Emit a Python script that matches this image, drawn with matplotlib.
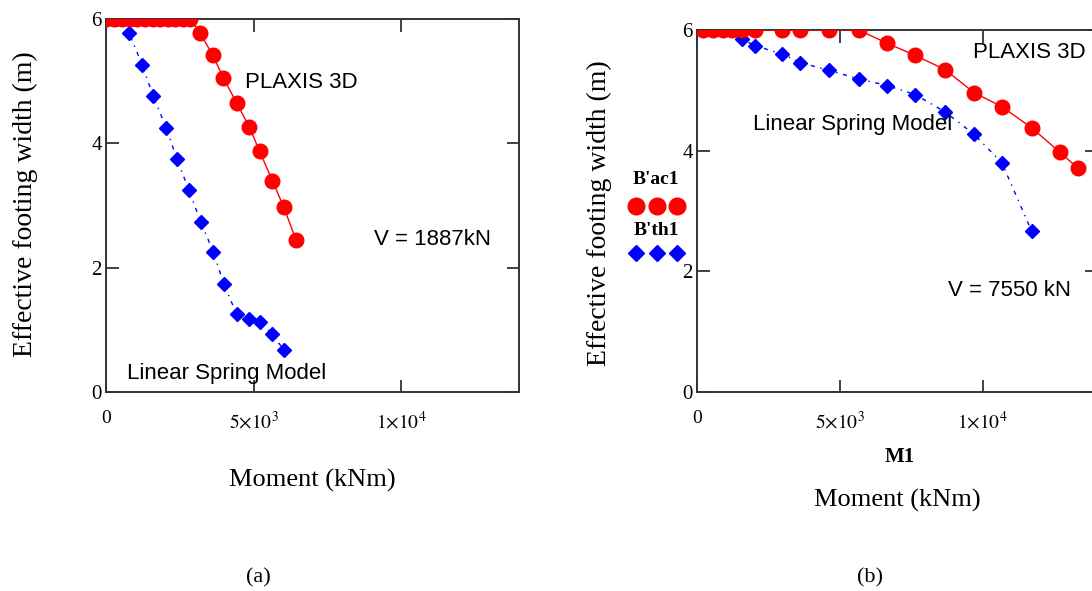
import matplotlib.pyplot as plt
from matplotlib.lines import Line2D

plt.rcParams['font.family'] = ['Liberation Serif', 'DejaVu Serif']
plt.rcParams['mathtext.fontset'] = 'stix'

# --- data (a): V = 1887 kN
a_plaxis_m = [0, 270, 540, 800, 1050, 1330, 1600, 1840, 2100, 2350, 2620, 2860,
              3180, 3620, 3980, 4430, 4850, 5210, 5640, 6020, 6440]
a_plaxis_b = [6.0, 6.0, 6.0, 6.0, 6.0, 6.0, 6.0, 6.0, 6.0, 6.0, 6.0, 6.0,
              5.78, 5.42, 5.05, 4.65, 4.27, 3.87, 3.40, 2.98, 2.45]
a_spring_m = [0, 370, 780, 1230, 1600, 2050, 2400, 2810, 3210, 3630, 4000,
              4430, 4850, 5230, 5640, 6020]
a_spring_b = [6.0, 6.0, 5.78, 5.26, 4.76, 4.24, 3.75, 3.25, 2.74, 2.26, 1.73,
              1.25, 1.17, 1.12, 0.93, 0.68]

# --- data (b): V = 7550 kN
b_plaxis_m = [200, 560, 910, 1220, 1580, 2030, 2990, 3620, 4620, 5660, 6650,
              7640, 8690, 9700, 10670, 11710, 12710, 13330]
b_plaxis_b = [6.0, 6.0, 6.0, 6.0, 6.0, 6.0, 6.0, 6.0, 6.0, 6.0, 5.78,
              5.58, 5.34, 4.96, 4.73, 4.38, 3.97, 3.71]
b_spring_m = [200, 560, 910, 1220, 1580, 2030, 2990, 3620, 4620, 5660, 6650,
              7640, 8690, 9700, 10670, 11710]
b_spring_b = [6.0, 6.0, 6.0, 6.0, 5.85, 5.74, 5.60, 5.46, 5.33, 5.19, 5.08,
              4.93, 4.64, 4.27, 3.80, 2.67]

x_ticks = [0, 5000, 10000]
x_ticklabels = ['0', r'$5{\times}10^{3}$', r'$1{\times}10^{4}$']
y_ticks = [0, 2, 4, 6]

W, H = 1092, 591
fig = plt.figure(figsize=(W / 100, H / 100), dpi=100)


def box(l, t, r, b):
    return [l / W, 1 - b / H, (r - l) / W, (b - t) / H]


def fx(x):
    return x / W


def fy(y):
    return 1 - y / H


RED = '#ff0000'
BLUE = '#0000ff'
blue_ls = (0, (3, 4, 1, 4))


def setup(ax):
    ax.set_xlim(0, 14000)
    ax.set_ylim(0, 6)
    ax.set_xticks(x_ticks)
    ax.set_xticklabels(x_ticklabels)
    ax.set_yticks(y_ticks)
    ax.tick_params(direction='in', top=True, right=True, length=9, width=1.3,
                   color='#333333')
    ax.tick_params(axis='x', pad=13, labelsize=14)
    ax.tick_params(axis='y', pad=3, labelsize=15)
    for s in ax.spines.values():
        s.set_linewidth(1.4)
        s.set_color('#333333')


def draw(ax, pm, pb, sm, sb):
    ax.plot(sm, sb, color=BLUE, ls=blue_ls, lw=1.0, marker='D', ms=7.5,
            mec=BLUE, mfc=BLUE, zorder=3)
    ax.plot(pm, pb, color=RED, ls='-', lw=1.0, marker='o', ms=10.5,
            mec=RED, mfc=RED, zorder=4)


sans = ['Liberation Sans', 'DejaVu Sans']

# ── (a) ──
ax1 = fig.add_axes(box(106, 19, 519, 392))
setup(ax1)
draw(ax1, a_plaxis_m, a_plaxis_b, a_spring_m, a_spring_b)
ax1.text(4700, 4.98, 'PLAXIS 3D', family=sans, fontsize=16, va='center', ha='left')
ax1.text(9100, 2.45, 'V = 1887kN', family=sans, fontsize=16, va='center', ha='left')
ax1.text(700, 0.3, 'Linear Spring Model', family=sans, fontsize=16, va='center', ha='left')
fig.text(fx(25), fy(204), 'Effective footing width (m)', rotation=90,
         fontsize=20, ha='center', va='center')
fig.text(fx(312), fy(480), 'Moment (kNm)', fontsize=19, ha='center', va='center')
fig.text(fx(258), fy(578), '(a)', fontsize=16, ha='center', va='center')

# ── (b) ──
ax2 = fig.add_axes(box(697, 30, 1097, 392))
setup(ax2)
draw(ax2, b_plaxis_m, b_plaxis_b, b_spring_m, b_spring_b)
ax2.text(9650, 5.62, 'PLAXIS 3D', family=sans, fontsize=16, va='center', ha='left')
ax2.text(1950, 4.43, 'Linear Spring Model', family=sans, fontsize=16, va='center', ha='left')
ax2.text(8800, 1.68, 'V = 7550 kN', family=sans, fontsize=16, va='center', ha='left')
fig.text(fx(599), fy(213), 'Effective footing width (m)', rotation=90,
         fontsize=20, ha='center', va='center')
fig.text(fx(900), fy(457), 'M1', fontsize=15, fontweight='bold', ha='center', va='center')
fig.text(fx(897), fy(500), 'Moment (kNm)', fontsize=19, ha='center', va='center')
fig.text(fx(870), fy(578), '(b)', fontsize=16, ha='center', va='center')

# legend block of (b), Mathcad style: name above three markers
fig.text(fx(656), fy(180), "B'ac1", fontsize=14, fontweight='bold', ha='center', va='center')
fig.add_artist(Line2D([fx(636), fx(657), fx(677)], [fy(206)] * 3, transform=fig.transFigure,
                      ls='none', marker='o', ms=12, color=RED))
fig.text(fx(656), fy(231), "B'th1", fontsize=14, fontweight='bold', ha='center', va='center')
fig.add_artist(Line2D([fx(636), fx(657), fx(677)], [fy(253)] * 3, transform=fig.transFigure,
                      ls='none', marker='D', ms=8.5, color=BLUE))

fig.savefig('out.png', dpi=100)
